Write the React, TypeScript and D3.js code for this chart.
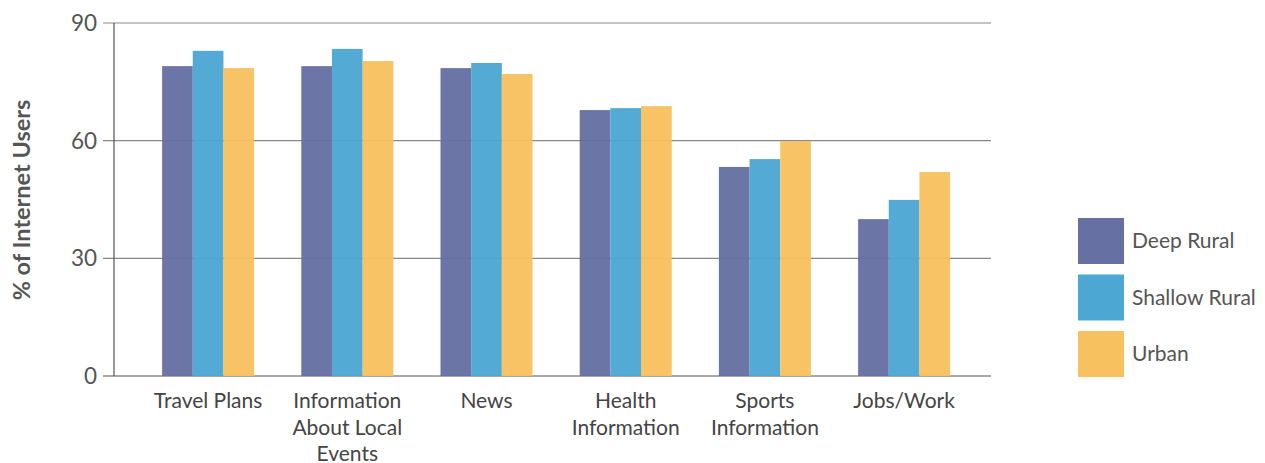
import React from "react";
import * as d3 from "d3";

const categories: string[][] = [
  ["Travel Plans"],
  ["Information", "About Local", "Events"],
  ["News"],
  ["Health", "Information"],
  ["Sports", "Information"],
  ["Jobs/Work"],
];
const seriesNames = ["Deep Rural", "Shallow Rural", "Urban"];
const seriesColors = ["#6670a2", "#4ca8d3", "#f7c15f"];
const deepRural = [79.0, 79.0, 78.5, 67.8, 53.3, 40.0];
const shallowRural = [82.9, 83.4, 79.8, 68.3, 55.3, 44.9];
const urban = [78.5, 80.3, 77.0, 68.8, 59.9, 52.0];
const yTicks = [0, 30, 60, 90];

const FONT = "Lato, 'Open Sans', sans-serif";

export default function App() {
  const W = 1265, H = 463;
  const axisLeft = 114, axisRight = 991;
  const y = d3.scaleLinear().domain([0, 90]).range([376, 23]);
  const keys = categories.map((c) => c.join(" "));
  const x0 = d3.scaleBand<string>().domain(keys).range([138.5, 973.7]).paddingInner(0).paddingOuter(0);
  const x1 = d3.scaleBand<string>().domain(seriesNames).range([-46, 46]);
  const series = [deepRural, shallowRural, urban];

  return (
    <svg width={W} height={H} style={{ position: "absolute", left: 0, top: 0, fontFamily: FONT }}>
      {yTicks.map((t) => (
        <g key={t}>
          <line x1={103} x2={axisRight} y1={y(t)} y2={y(t)} stroke={t === 0 ? "#555" : "#888"} strokeWidth={1.2} />
          <text x={97} y={y(t)} dy="0.35em" textAnchor="end" fontSize={22.5} fill="#555">{t}</text>
        </g>
      ))}
      <line x1={axisLeft} x2={axisLeft} y1={y(90)} y2={y(0)} stroke="#555" strokeWidth={1.2} />
      {keys.map((k, i) => {
        const cx = (x0(k) as number) + x0.bandwidth() / 2;
        return (
          <g key={k}>
            {seriesNames.map((s, j) => (
              <rect
                key={s}
                x={cx + (x1(s) as number)}
                width={x1.bandwidth()}
                y={y(series[j][i])}
                height={y(0) - y(series[j][i])}
                fill={seriesColors[j]}
                fillOpacity={0.96}
              />
            ))}
            <text x={cx} y={408} textAnchor="middle" fontSize={21} fill="#444">
              {categories[i].map((line, li) => (
                <tspan key={li} x={cx} dy={li === 0 ? 0 : 26.5}>{line}</tspan>
              ))}
            </text>
          </g>
        );
      })}
      <text
        transform={`translate(30,${200}) rotate(-90)`}
        textAnchor="middle"
        fontSize={23.5}
        fontWeight="bold"
        fill="#555"
      >% of Internet Users</text>
      {seriesNames.map((s, j) => (
        <g key={s} transform={`translate(1078,${218 + j * 56.5})`}>
          <rect width={46} height={46} fill={seriesColors[j]} />
          <text x={54} y={23} dy="0.35em" fontSize={21} fill="#555">{s}</text>
        </g>
      ))}
    </svg>
  );
}
